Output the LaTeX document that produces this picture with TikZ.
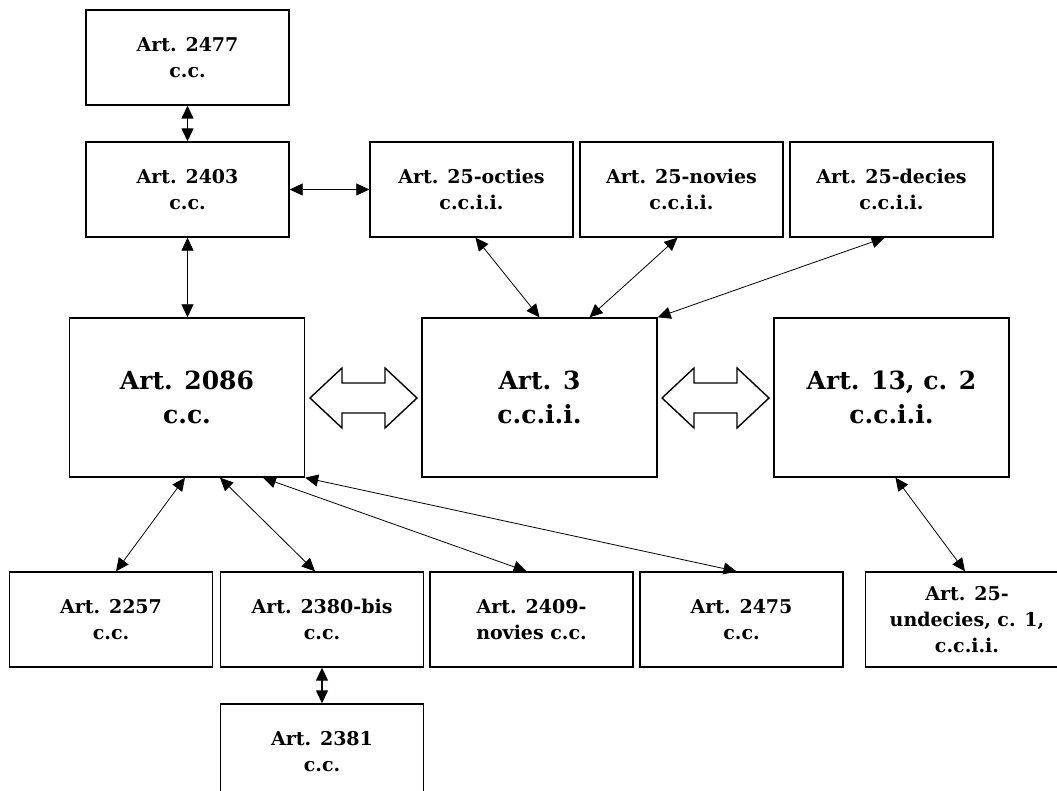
\documentclass[tikz,border=0pt]{standalone}
\usepackage{fontspec}
\setmainfont{DejaVu Serif}
\usetikzlibrary{arrows.meta}

\tikzset{
  art/.style={draw, line width=1.4pt, minimum width=203pt, minimum height=95pt,
    align=center, inner sep=0pt, font=\bfseries\fontsize{19}{26}\selectfont},
  bigart/.style={art, minimum width=235pt, minimum height=159pt,
    font=\bfseries\fontsize{25}{34}\selectfont},
  link/.style={{Triangle[length=13pt,width=12pt]}-{Triangle[length=13pt,width=12pt]}, line width=0.8pt},
  shortlink/.style={link, line width=1.4pt},
  twoway/.pic={
    \draw[line width=1.4pt, line join=miter] (-53.5,0) -- ++(32,-30) -- ++(0,15) -- ++(43,0) -- ++(0,-15)
      -- ++(32,30) -- ++(-32,30) -- ++(0,-15) -- ++(-43,0) -- ++(0,15) -- cycle;
  }
}

\begin{document}
\begin{tikzpicture}[x=1pt, y=-1pt]
\useasboundingbox (0,0) rectangle (1057,791);
\clip (0,0) rectangle (1057,791);
% top rows
\node[art] (a2477) at (187.5,57.5) {Art. 2477\\c.c.};
\node[art] (a2403) at (187.5,189.5) {Art. 2403\\c.c.};
\node[art] (octies) at (471.5,189.5) {Art. 25-octies\\c.c.i.i.};
\node[art] (novies) at (681.5,189.5) {Art. 25-novies\\c.c.i.i.};
\node[art] (decies) at (891.5,189.5) {Art. 25-decies\\c.c.i.i.};
% middle row
\node[bigart] (a2086) at (187,397.5) {Art. 2086\\c.c.};
\node[bigart] (art3) at (539.5,397.5) {Art. 3\\c.c.i.i.};
\node[bigart] (art13) at (891.5,397.5) {Art. 13, c. 2\\c.c.i.i.};
\pic at (363.5,398) {twoway};
\pic at (715.5,398) {twoway};
% bottom rows
\node[art] (a2257) at (111,619.5) {Art. 2257\\c.c.};
\node[art] (a2380) at (322,619.5) {Art. 2380-bis\\c.c.};
\node[art] (a2409) at (531.5,619.5) {Art. 2409-\\novies c.c.};
\node[art] (a2475) at (741.5,619.5) {Art. 2475\\c.c.};
\node[art] (undecies) at (967,619.5) {Art. 25-\\undecies, c. 1,\\c.c.i.i.};
\node[art] (a2381) at (322,751.5) {Art. 2381\\c.c.};
% links
\draw[shortlink] (a2477) -- (a2403);
\draw[link] (a2403) -- (octies);
\draw[link] (a2403) -- (a2403 |- a2086.north);
\draw[link] ([xshift=4pt]octies.south) -- (art3.north);
\draw[link] ([xshift=-4pt]novies.south) -- ([xshift=50pt]art3.north);
\draw[link] ([xshift=-7pt]decies.south) -- (art3.north east);
\draw[link] ([xshift=4pt]art13.south) -- ([xshift=-2pt]undecies.north);
\draw[link] ([xshift=-2pt]a2086.south) -- ([xshift=5pt]a2257.north);
\draw[link] ([xshift=33pt]a2086.south) -- ([xshift=-7pt]a2380.north);
\draw[link] ([xshift=76pt]a2086.south) -- ([xshift=-5pt]a2409.north);
\draw[link] (a2086.south east) -- ([xshift=-5pt]a2475.north);
\draw[shortlink] (a2380) -- (a2381);
\end{tikzpicture}
\end{document}
